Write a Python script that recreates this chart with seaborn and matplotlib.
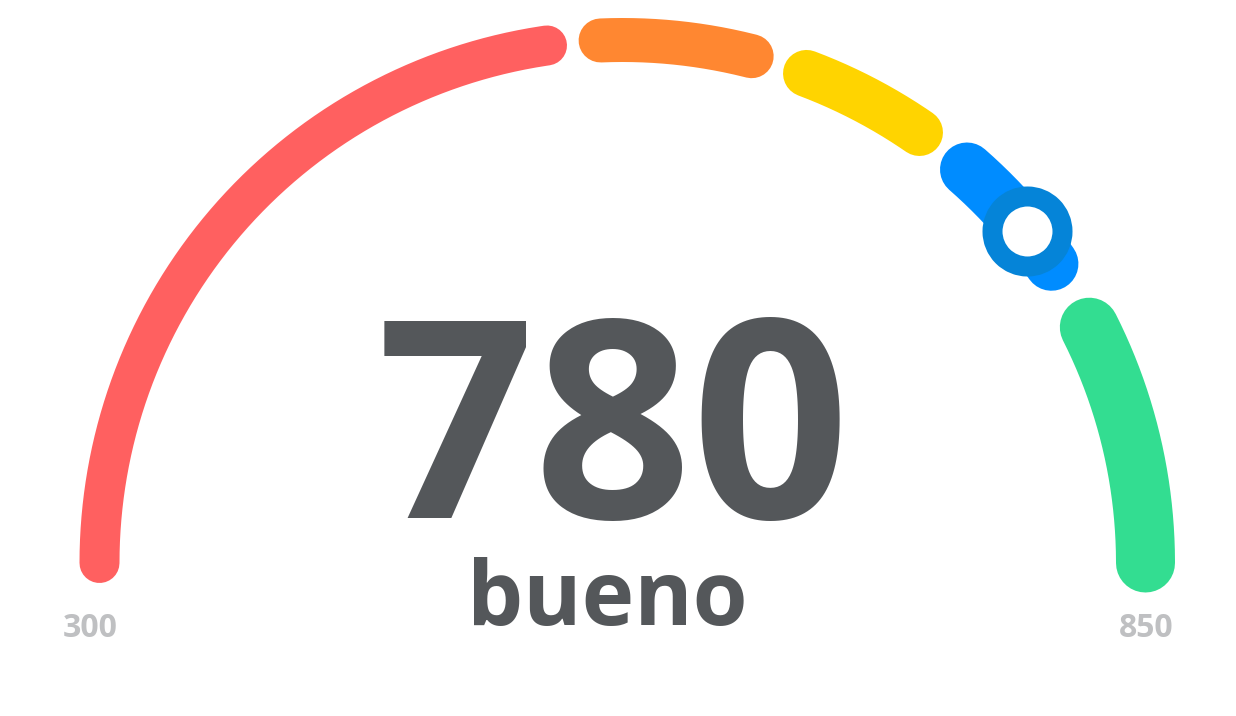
import numpy as np
import pandas as pd
import matplotlib
matplotlib.use("Agg")
import matplotlib.pyplot as plt
import seaborn as sns

# score bands of the gauge
band_lo = [300, 580, 670, 740, 800]
band_hi = [579, 669, 739, 799, 850]
band_colors = ["#FF6060", "#FF8731", "#FFD400", "#008CFF", "#33DD91"]
score = 780
score_label = "bueno"
scale_min, scale_max = 300, 850

# layout of the arc (pixels), each band gets its own angular slot
cx, cy, R = 622.5, 563, 523
band_angles = [(180, 98.3), (92.4, 75.7), (69.4, 55.4), (48.8, 34.9), (26.8, 0)]
band_widths_px = [40, 44, 47, 54, 59]
PT = 0.72  # px -> pt at dpi 100

sns.set_theme(style="white")
plt.rcParams['font.family'] = ['Open Sans', 'DejaVu Sans']

fig = plt.figure(figsize=(12.36, 7.16), dpi=100)
ax = fig.add_axes([0, 0, 1, 1])
ax.set_xlim(0, 1236)
ax.set_ylim(716, 0)
ax.set_axis_off()


def score_to_angle(s):
    # piecewise scale: score range of each band -> its angular slot
    knots_s = []
    knots_a = []
    for lo, hi, (a0, a1) in zip(band_lo, band_hi, band_angles):
        knots_s += [lo, hi]
        knots_a += [a0, a1]
    return np.interp(s, knots_s, knots_a)


for lo, hi, col, w in zip(band_lo, band_hi, band_colors, band_widths_px):
    s = np.linspace(lo, hi, 200)
    th = np.radians(score_to_angle(s))
    df = pd.DataFrame({'x': cx + R * np.cos(th), 'y': cy - R * np.sin(th)})
    sns.lineplot(data=df, x='x', y='y', ax=ax, sort=False, estimator=None,
                 color=col, linewidth=w * PT, solid_capstyle='round')

# score marker
th = np.radians(score_to_angle(score))
ax.plot(cx + R * np.cos(th), cy - R * np.sin(th), 'o', markersize=70 * PT,
        markerfacecolor='white', markeredgecolor='#0584D8', markeredgewidth=20 * PT,
        zorder=5)

ax.text(613, 518, str(score), fontsize=199, fontweight='bold', ha='center',
        va='baseline', color='#54575A')
ax.text(607, 625, score_label, fontsize=64, fontweight='bold', ha='center',
        va='baseline', color='#54575A')
ax.text(90, 637, str(scale_min), fontsize=23, fontweight='bold', ha='center',
        va='baseline', color='#BFC0C2')
ax.text(1146, 637, str(scale_max), fontsize=23, fontweight='bold', ha='center',
        va='baseline', color='#BFC0C2')

ax.set_xlabel('')
ax.set_ylabel('')
fig.savefig('out.png', dpi=100, facecolor='white')
